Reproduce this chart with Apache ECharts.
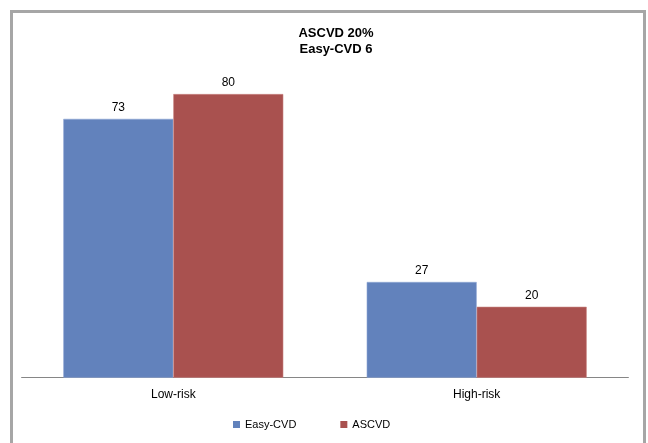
<!DOCTYPE html>
<html>
<head>
<meta charset="utf-8">
<script src="https://cdn.jsdelivr.net/npm/echarts@6/dist/echarts.min.js"></script>
<style>
  html, body { margin: 0; padding: 0; background: #fff; }
  #frame { position: absolute; left: 10px; top: 10px; width: 636px; height: 520px; box-sizing: border-box; border: 3px solid #a6a6a6; }
  #chart { position: absolute; left: 0; top: 0; width: 648px; height: 443px; }
</style>
</head>
<body>
<div id="frame"></div>
<div id="chart"></div>
<script>
const titleLines = ['ASCVD 20%', 'Easy-CVD 6'];
const categories = ['Low-risk', 'High-risk'];
const seriesNames = ['Easy-CVD', 'ASCVD'];
const easyCvd = [73, 27];
const ascvd = [80, 20];
const colors = ['#6282bc', '#a9514f'];
const borders = ['#8ea6d4', '#c98582'];

const chart = echarts.init(document.getElementById('chart'), null, { renderer: 'canvas' });
const font = 'Liberation Sans, Arial, sans-serif';
chart.setOption({
  backgroundColor: 'transparent',
  animation: false,
  textStyle: { fontFamily: font },
  title: {
    text: titleLines.join('\n'),
    left: 336,
    textAlign: 'center',
    top: 25,
    padding: 0,
    textStyle: { fontFamily: font, fontSize: 13, fontWeight: 'bold', color: '#000', lineHeight: 16.5 }
  },
  legend: {
    data: seriesNames,
    left: 233,
    top: 418,
    padding: 0,
    itemWidth: 7,
    itemHeight: 7,
    itemGap: 44,
    icon: 'rect',
    itemStyle: { borderWidth: 0 },
    textStyle: { fontFamily: font, fontSize: 11, color: '#000', lineHeight: 13 }
  },
  grid: { left: 21.6, right: 19.6, top: 58.6, bottom: 65.3, containLabel: false },
  xAxis: {
    type: 'category',
    data: categories,
    axisLine: { show: true, lineStyle: { color: '#868686', width: 1 } },
    axisTick: { show: false },
    axisLabel: { fontFamily: font, fontSize: 12, color: '#000', margin: 11 },
    splitLine: { show: false }
  },
  yAxis: {
    type: 'value',
    min: 0,
    max: 90,
    show: false,
    splitLine: { show: false }
  },
  series: [
    {
      name: seriesNames[0],
      type: 'bar',
      data: easyCvd,
      barWidth: 110,
      barGap: '0%',
      itemStyle: { color: colors[0], borderColor: borders[0], borderWidth: 0.6 },
      label: { show: true, position: 'top', distance: 5, fontFamily: font, fontSize: 12, color: '#000' }
    },
    {
      name: seriesNames[1],
      type: 'bar',
      data: ascvd,
      barWidth: 110,
      barGap: '0%',
      itemStyle: { color: colors[1], borderColor: borders[1], borderWidth: 0.6 },
      label: { show: true, position: 'top', distance: 5, fontFamily: font, fontSize: 12, color: '#000' }
    }
  ]
});
</script>
</body>
</html>
